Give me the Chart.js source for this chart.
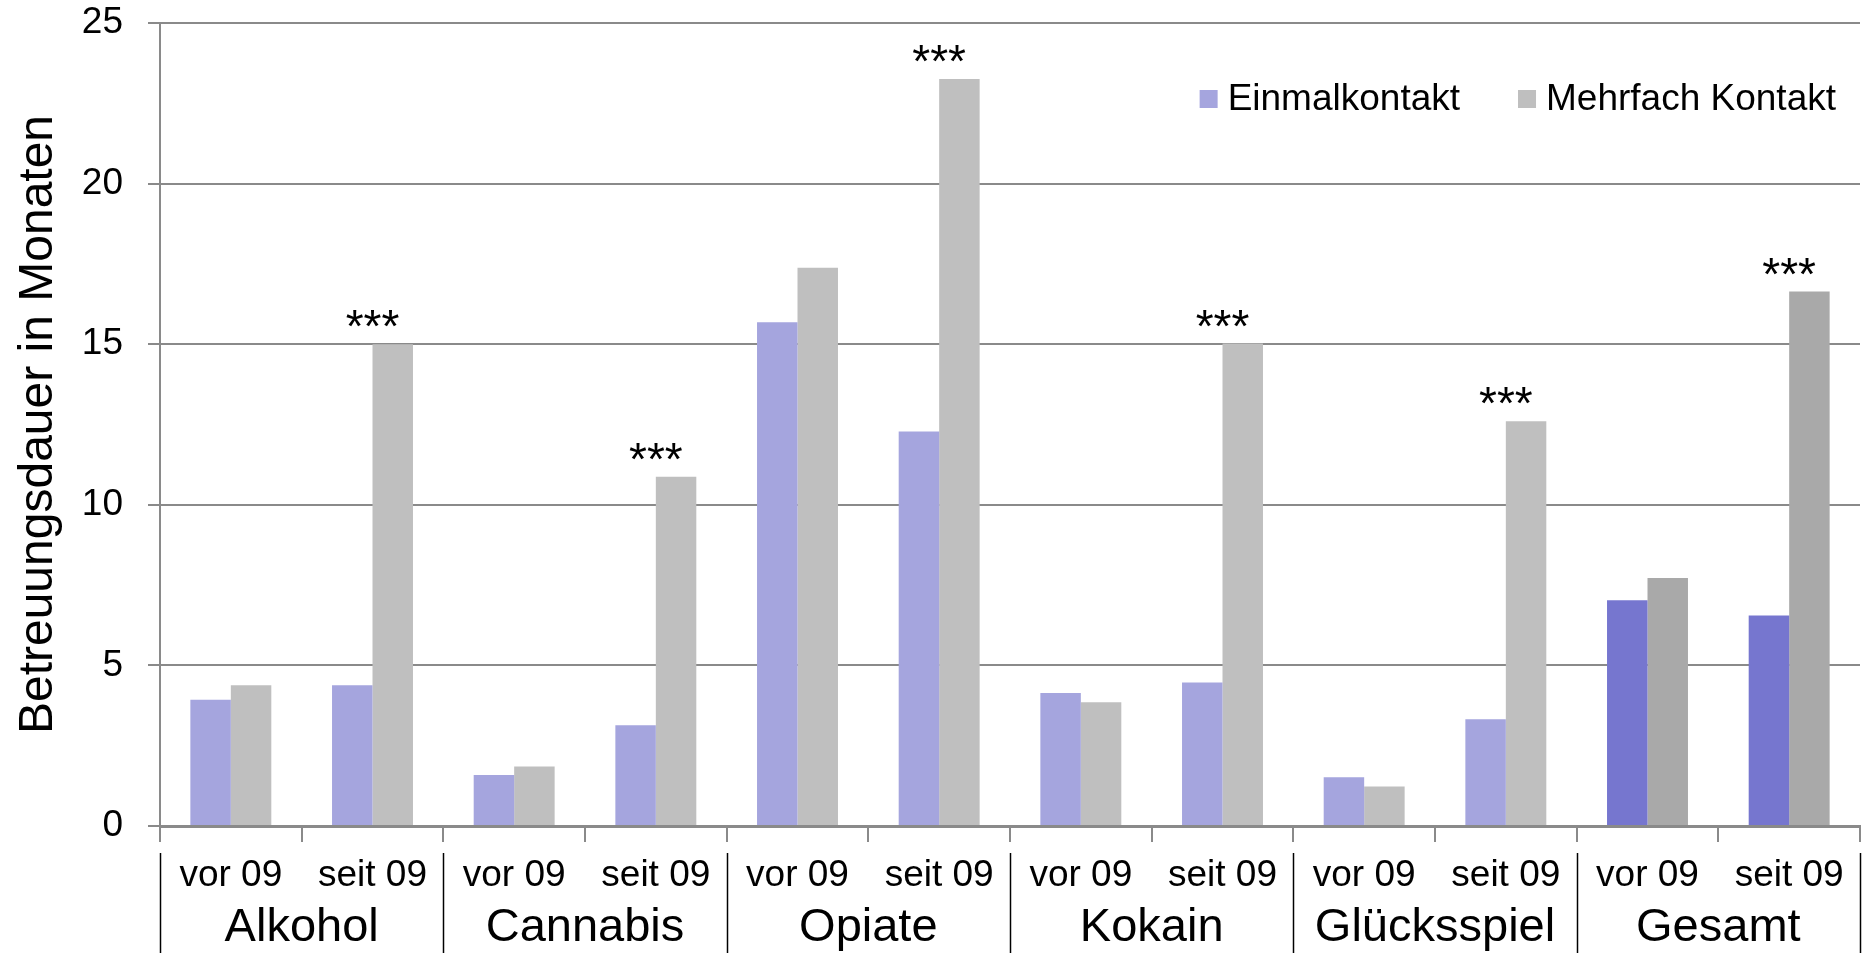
<!DOCTYPE html>
<html lang="de">
<head>
<meta charset="UTF-8">
<title>Betreuungsdauer</title>
<script src="https://cdn.jsdelivr.net/npm/chart.js"></script>
<style>
  html, body { margin: 0; padding: 0; background: #fff; }
  #wrap { width: 1866px; height: 953px; position: relative; }
</style>
</head>
<body>
<div id="wrap"><canvas id="myChart"></canvas></div>
<script>
// data
const periods = ['vor 09', 'seit 09', 'vor 09', 'seit 09', 'vor 09', 'seit 09',
                 'vor 09', 'seit 09', 'vor 09', 'seit 09', 'vor 09', 'seit 09'];
const groups = ['Alkohol', 'Cannabis', 'Opiate', 'Kokain', 'Glücksspiel', 'Gesamt'];
const einmal = [3.93, 4.38, 1.59, 3.14, 15.68, 12.28, 4.14, 4.47, 1.52, 3.32, 7.03, 6.55];
const mehrfach = [4.38, 15.0, 1.85, 10.87, 17.38, 23.26, 3.85, 15.02, 1.23, 12.6, 7.72, 16.64];
const signif = ['', '***', '', '***', '', '***', '', '***', '', '***', '', '***'];
const yTicks = [0, 5, 10, 15, 20, 25];

const FONT = '"Liberation Sans", Arial, sans-serif';
const GRID = '#8a8a8a';

// Gesamt bars are drawn darker
const isTotal = i => groups[Math.floor(i / 2)] === 'Gesamt';
const blue = periods.map((p, i) => isTotal(i) ? '#7676cf' : '#a5a5de');
const grey = periods.map((p, i) => isTotal(i) ? '#a9a9a9' : '#bfbfbf');

const extras = {
  id: 'extras',
  afterDraw(chart) {
    const { ctx, chartArea, scales: { x, y } } = chart;
    ctx.save();

    // significance stars
    ctx.font = '46px ' + FONT;
    ctx.fillStyle = '#000';
    ctx.textAlign = 'center';
    ctx.textBaseline = 'alphabetic';
    signif.forEach((s, i) => {
      if (!s) return;
      const top = y.getPixelForValue(Math.max(einmal[i], mehrfach[i]));
      ctx.fillText(s, x.getPixelForValue(i), top - 2);
    });

    // group separators under the axis
    ctx.strokeStyle = '#000';
    ctx.lineWidth = 1.5;
    for (let g = 0; g <= groups.length; g++) {
      const px = Math.round(x.getPixelForValue(g * 2 - 0.5)) + 0.5;
      ctx.beginPath();
      ctx.moveTo(px, x.top + 27);
      ctx.lineTo(px, chart.height);
      ctx.stroke();
    }

    // legend, top right inside the plot
    ctx.font = '37px ' + FONT;
    ctx.textAlign = 'left';
    ctx.textBaseline = 'middle';
    const cy = chartArea.top + 76;
    let xr = chartArea.right - 24;
    const ds = chart.data.datasets;
    for (let k = ds.length - 1; k >= 0; k--) {
      const w = ctx.measureText(ds[k].label).width;
      const tx = xr - w;
      ctx.fillStyle = '#000';
      ctx.fillText(ds[k].label, tx, cy + 1);
      ctx.fillStyle = ds[k].backgroundColor[0];
      ctx.fillRect(tx - 10 - 18, cy - 9, 18, 18);
      xr = tx - 28 - 58;
    }
    ctx.restore();
  }
};

new Chart(document.getElementById('myChart'), {
  type: 'bar',
  data: {
    labels: periods,
    datasets: [
      { label: 'Einmalkontakt', data: einmal, backgroundColor: blue, borderWidth: 0 },
      { label: 'Mehrfach Kontakt', data: mehrfach, backgroundColor: grey, borderWidth: 0 }
    ]
  },
  options: {
    responsive: true,
    maintainAspectRatio: false,
    animation: false,
    categoryPercentage: 2 / 3.5,
    barPercentage: 1,
    layout: { padding: { top: 23, right: 6, left: 0, bottom: 0 } },
    plugins: {
      legend: { display: false },
      tooltip: { enabled: false }
    },
    scales: {
      y: {
        min: 0,
        max: 25,
        afterBuildTicks: s => { s.ticks = yTicks.map(v => ({ value: v })); },
        afterFit: s => { s.width = 160; s.paddingTop = 0; s.paddingBottom = 0; },
        grid: { color: GRID, lineWidth: 2, tickLength: 12 },
        border: { color: GRID, width: 2 },
        ticks: { color: '#000', padding: 25, font: { family: FONT, size: 37 } },
        title: {
          display: true,
          text: 'Betreuungsdauer in Monaten',
          color: '#000',
          padding: { top: 10, bottom: 0 },
          font: { family: FONT, size: 48 }
        }
      },
      x: {
        afterFit: s => { s.height = 74; },
        grid: { color: GRID, lineWidth: 2, tickLength: 16, drawOnChartArea: false, offset: true },
        border: { color: GRID, width: 3 },
        ticks: { color: '#000', padding: 12, autoSkip: false, maxRotation: 0, font: { family: FONT, size: 37 } }
      },
      x2: {
        type: 'category',
        labels: groups,
        position: 'bottom',
        offset: true,
        afterFit: s => { s.height = 53; },
        grid: { display: false, drawTicks: false },
        border: { display: false },
        ticks: { color: '#000', padding: 0, autoSkip: false, maxRotation: 0, font: { family: FONT, size: 47 } }
      }
    }
  },
  plugins: [extras]
});
</script>
</body>
</html>
